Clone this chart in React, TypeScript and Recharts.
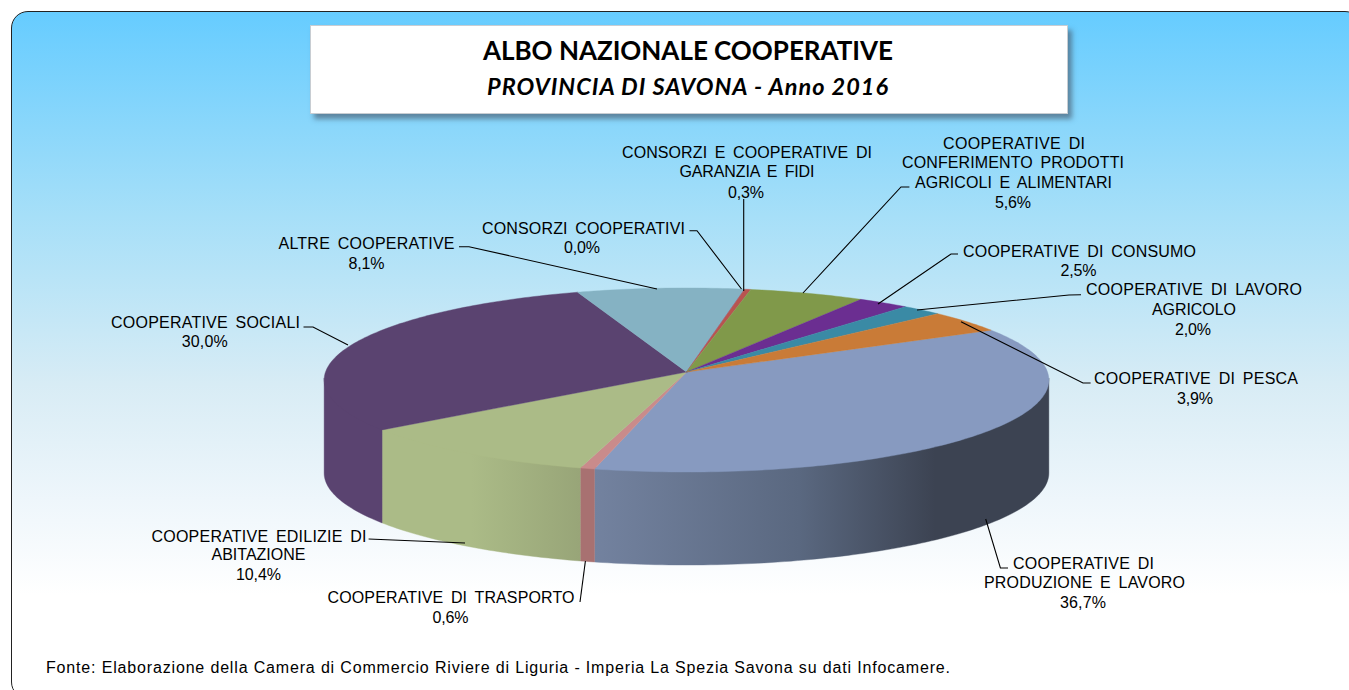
import React from 'react';
import { PieChart, Pie } from 'recharts';

const categories = [
  ['COOPERATIVE DI', 'PRODUZIONE E LAVORO'],
  ['COOPERATIVE DI TRASPORTO'],
  ['COOPERATIVE EDILIZIE DI', 'ABITAZIONE'],
  ['COOPERATIVE SOCIALI'],
  ['ALTRE COOPERATIVE'],
  ['CONSORZI COOPERATIVI'],
  ['CONSORZI E COOPERATIVE DI', 'GARANZIA E FIDI'],
  ['COOPERATIVE DI', 'CONFERIMENTO PRODOTTI', 'AGRICOLI E ALIMENTARI'],
  ['COOPERATIVE DI CONSUMO'],
  ['COOPERATIVE DI LAVORO', 'AGRICOLO'],
  ['COOPERATIVE DI PESCA'],
];
const values = [36.7, 0.6, 10.4, 30.0, 8.1, 0.0, 0.3, 5.6, 2.5, 2.0, 3.9];
const topColors = ['#879AC0', '#C98B8B', '#ABBB87', '#5A4370', '#85B2C3', '#8A6FA8', '#B85450', '#80994A', '#6B2E91', '#3A8AA5', '#C97B37'];
const wallStops: (string[] | null)[] = [
  ['#73829F', '#5A6880', '#3C4352', '#3C4352'],
  ['#A87171', '#A87171'],
  ['#ABBB87', '#ABBB87', '#98A578'],
  ['#5A4370', '#5A4370'],
  null, null, null, null, null, null, null,
];
const wallOffsets = [
  [0, 0.45, 0.75, 1],
  [0, 1],
  [0, 0.45, 1],
  [0, 1],
];

// label placement: one [centre x, baseline y, width] for each text line, the last line is the percentage
const labelLines: number[][][] = [
  [[1083.5, 568, 141], [1084.5, 587, 201], [1083, 607, 46]],
  [[451, 602, 247], [450.5, 622, 36]],
  [[259, 541, 215], [258.5, 559, 94], [258.5, 579, 45]],
  [[205.5, 327, 189], [204.7, 346, 46]],
  [[366.5, 248, 176], [366.4, 268, 36]],
  [[583.5, 233, 203], [582, 252, 36]],
  [[747, 157, 250], [747, 176, 135], [746, 197, 36]],
  [[1014, 148, 142], [1013, 167, 222], [1013.5, 187, 197], [1013, 207, 36]],
  [[1079.5, 256, 233], [1078.5, 275, 36]],
  [[1194, 294, 216], [1194, 314, 84], [1193, 334, 36]],
  [[1196, 383, 204], [1195, 403, 36]],
];
const leaderLines: number[][][] = [
  [[1008, 568], [1000.4, 568], [985.7, 519]],
  [[580, 602], [585.4, 561]],
  [[368.6, 539], [465, 543]],
  [[303.5, 327], [313, 327], [348, 345]],
  [[459, 246.7], [469, 246.7], [657, 289]],
  [[689.5, 230.7], [697, 230.7], [741.5, 289]],
  [[743.7, 199], [743.7, 291]],
  [[909.4, 187], [901, 187], [803, 293]],
  [[958, 254], [951, 254], [878, 304]],
  [[1081, 294.7], [1069, 295], [917, 310]],
  [[1090.6, 383], [1083, 383], [961, 321.7]],
];

const chartData = categories.map((c, i) => ({ name: c.join(' '), value: values[i], fill: topColors[i], idx: i }));

const SQUASH = 0.253; // vertical foreshortening of the disc
const PERSPECTIVE = 0.087; // the far side of the disc is drawn smaller
const DEPTH = 93;
const WALL_FROM = -175;
const WALL_TO = -5;

const rim = (deg: number, cx: number, cy: number, r: number) => {
  const a = (deg * Math.PI) / 180;
  const w = 1 + PERSPECTIVE * Math.sin(a);
  return [cx + (r * Math.cos(a)) / w, cy - (r * SQUASH * Math.sin(a)) / w];
};

const arc = (from: number, to: number, cx: number, cy: number, r: number, dy = 0) => {
  const n = Math.max(2, Math.ceil(Math.abs(from - to)));
  const out: string[] = [];
  for (let i = 0; i <= n; i++) {
    const p = rim(from + ((to - from) * i) / n, cx, cy, r);
    out.push(`${p[0].toFixed(2)},${(p[1] + dy).toFixed(2)}`);
  }
  return out;
};

const TopShape = (p: any) => {
  const pts = arc(p.startAngle, p.endAngle, p.cx, p.cy, p.outerRadius);
  const d = `M${p.cx},${p.cy}L${pts.join('L')}Z`;
  return <path d={d} fill={p.fill} stroke={p.fill} strokeWidth={0.4} />;
};

const WallShape = (p: any) => {
  const idx = p.idx ?? p.payload?.idx ?? p.index;
  const stops = wallStops[idx];
  if (!stops) return <g />;
  let hi = p.startAngle;
  let lo = p.endAngle;
  if (lo > hi) [hi, lo] = [lo, hi];
  const from = Math.min(hi, WALL_TO);
  const to = Math.max(lo, WALL_FROM);
  if (from <= to) return <g />;
  const upper = arc(from, to, p.cx, p.cy, p.outerRadius, -2);
  const lower = arc(to, from, p.cx, p.cy, p.outerRadius, DEPTH);
  const a = rim(from, p.cx, p.cy, p.outerRadius)[0];
  const b = rim(to, p.cx, p.cy, p.outerRadius)[0];
  const id = `wall-${idx}`;
  return (
    <g>
      <defs>
        <linearGradient id={id} gradientUnits="userSpaceOnUse" x1={Math.min(a, b)} x2={Math.max(a, b)} y1={0} y2={0}>
          {stops.map((c, i) => {
            const off = wallOffsets[idx][i];
            return <stop key={i} offset={off} stopColor={c} />;
          })}
        </linearGradient>
      </defs>
      <path d={`M${upper.join('L')}L${lower.join('L')}Z`} fill={`url(#${id})`} stroke={`url(#${id})`} strokeWidth={0.4} />
    </g>
  );
};

const percent = (v: number) => `${v.toFixed(1).replace('.', ',')}%`;

const renderLabel = (p: any) => {
  const i = p.index;
  const lines = [...categories[i], percent(values[i])];
  return (
    <g key={i}>
      <polyline points={leaderLines[i].map((q) => q.join(',')).join(' ')} fill="none" stroke="#000" strokeWidth={1.1} />
      {lines.map((t, k) => {
        const [x, y, w] = labelLines[i][k];
        return (
          <text key={k} x={x} y={y + 0.5} textAnchor="middle" textLength={w} lengthAdjust="spacing"
            fontFamily="'Liberation Sans', Arial, sans-serif" fontSize={16} fill="#000" style={{ wordSpacing: 3 }}>
            {t}
          </text>
        );
      })}
    </g>
  );
};

const FONT_TITLE = "Lato, Carlito, sans-serif";

export default function App() {
  return (
    <div style={{ position: 'absolute', left: 0, top: 0, width: 1349, height: 690, overflow: 'hidden', background: '#fff' }}>
      <div style={{
        position: 'absolute', left: 11, top: 11, width: 1351, height: 688, boxSizing: 'border-box',
        border: '1.4px solid #222', borderRadius: 17,
        background: 'linear-gradient(180deg, #66CCFF 0%, #A6DFF8 29.6%, #D8ECF5 54.4%, #EEF6FB 71%, #FFFFFF 85%, #FFFFFF 100%)',
      }} />
      <div style={{
        position: 'absolute', left: 310, top: 25, width: 758, height: 89, boxSizing: 'border-box',
        background: '#fff', border: '1px solid #C8CDD2', boxShadow: '4px 5px 5px rgba(70,90,110,0.65)',
      }} />
      <svg width={1349} height={690} style={{ position: 'absolute', left: 0, top: 0 }}>
        <text x={688} y={60} textAnchor="middle" textLength={410} lengthAdjust="spacing" fontFamily={FONT_TITLE} fontWeight={700} fontSize={26} fill="#000">
          ALBO NAZIONALE COOPERATIVE
        </text>
        <text x={687.5} y={95} textAnchor="middle" textLength={401} lengthAdjust="spacing" fontFamily={FONT_TITLE} fontWeight={700} fontStyle="italic" fontSize={23.5} fill="#000">
          PROVINCIA DI SAVONA - Anno 2016
        </text>
        <text x={46} y={673} textLength={904} lengthAdjust="spacing" fontFamily="'Liberation Sans', Arial, sans-serif" fontSize={16} fill="#000">
          Fonte: Elaborazione della Camera di Commercio Riviere di Liguria - Imperia La Spezia Savona su dati Infocamere.
        </text>
      </svg>
      <div style={{ position: 'absolute', left: 0, top: 0 }}>
        <PieChart width={1349} height={690} margin={{ top: 0, right: 0, bottom: 0, left: 0 }}>
          <Pie data={chartData} dataKey="value" nameKey="name" cx={686.5} cy={372} outerRadius={361} startAngle={28.5} endAngle={-331.5}
            stroke="none" paddingAngle={0} isAnimationActive={false} shape={WallShape} label={false} labelLine={false} />
          <Pie data={chartData} dataKey="value" nameKey="name" cx={686.5} cy={372} outerRadius={361} startAngle={28.5} endAngle={-331.5}
            stroke="none" paddingAngle={0} isAnimationActive={false} shape={TopShape} label={renderLabel} labelLine={false} />
        </PieChart>
      </div>
    </div>
  );
}
